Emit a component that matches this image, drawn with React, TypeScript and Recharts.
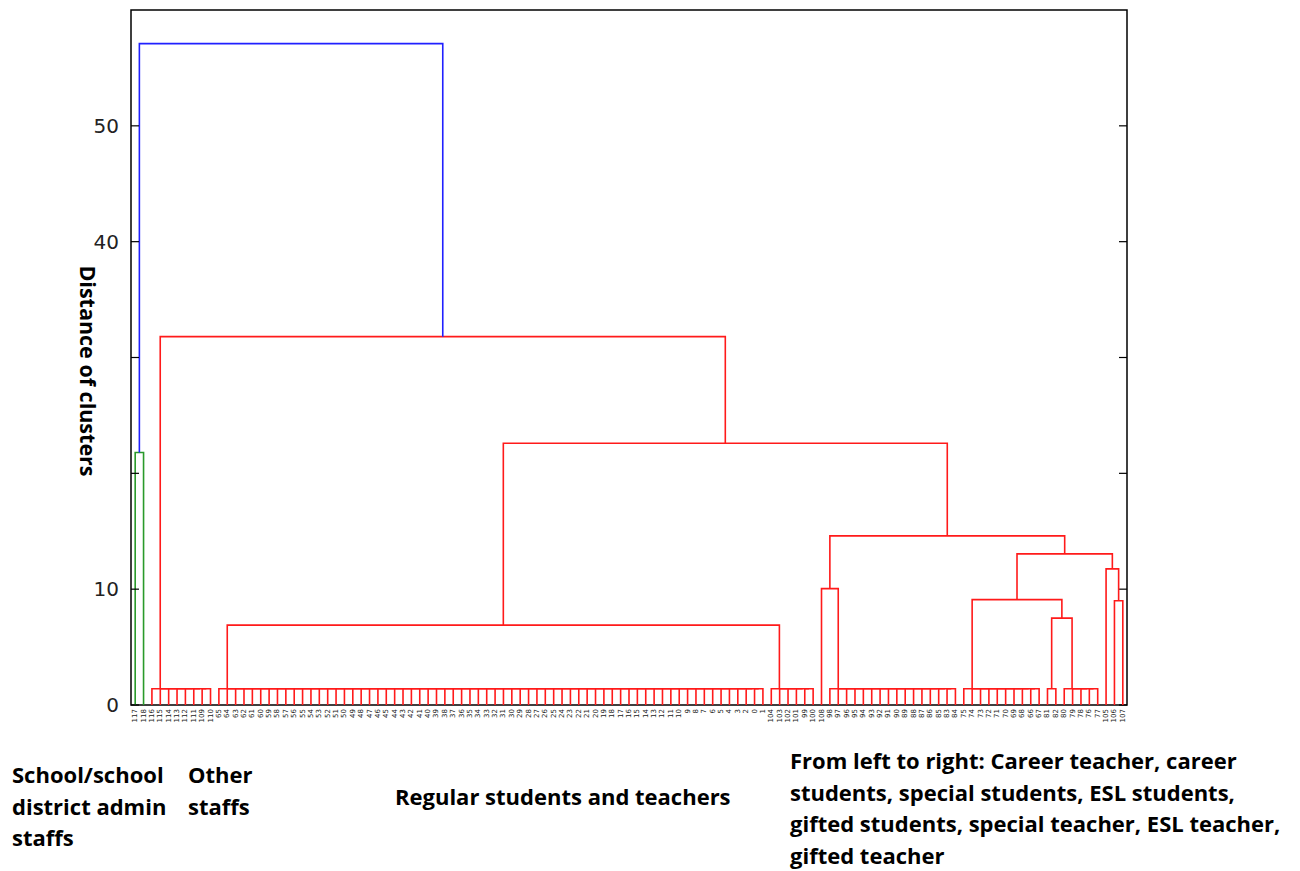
import React from "react";
import { ComposedChart, Line, XAxis, YAxis, ReferenceArea, ReferenceLine } from "recharts";

// leaf order along the x axis, left to right
const leafLabels = [
  "117", "118", "116", "115", "114", "113", "112", "111", "109", "110",
  "65", "64", "63", "62", "61", "60", "59", "58", "57", "56", "55", "54", "53", "52", "51", "50",
  "49", "48", "47", "46", "45", "44", "43", "42", "41", "40", "39", "38", "37", "36", "35", "34",
  "33", "32", "31", "30", "29", "28", "27", "26", "25", "24", "23", "22", "21", "20", "19", "18",
  "17", "16", "15", "14", "13", "12", "11", "10", "9", "8", "7", "6", "5", "4", "3", "2", "0", "1",
  "104", "103", "102", "101", "99", "100",
  "108",
  "98", "97", "96", "95", "94", "93", "92", "91", "90", "89", "88", "87", "86", "85", "83", "84",
  "75", "74", "73", "72", "71", "70", "69", "68", "66", "67",
  "81", "82",
  "80", "79", "78", "76", "77",
  "105", "106", "107",
];

// runs of leaves joined one after another at the same small distance (first/last = leaf index)
const combs = [
  { id: "other", first: 2, last: 9, height: 1.4 },
  { id: "regular", first: 10, last: 75, height: 1.4 },
  { id: "c104", first: 76, last: 81, height: 1.4 },
  { id: "c98", first: 83, last: 98, height: 1.4 },
  { id: "c75", first: 99, last: 108, height: 1.4 },
  { id: "c81", first: 109, last: 110, height: 1.4 },
  { id: "c80", first: 111, last: 115, height: 1.4 },
];

// upper merges: a / b are a leaf index or the id of an earlier cluster
const merges: { id: string; a: number | string; b: number | string; height: number; color?: string }[] = [
  { id: "admin", a: 0, b: 1, height: 21.8, color: "g" },
  { id: "m108", a: 82, b: "c98", height: 10.05 },
  { id: "mReg", a: "regular", b: "c104", height: 6.9 },
  { id: "m81", a: "c81", b: "c80", height: 7.5 },
  { id: "m75", a: "c75", b: "m81", height: 9.1 },
  { id: "m106", a: 117, b: 118, height: 9.0 },
  { id: "m105", a: 116, b: "m106", height: 11.75 },
  { id: "mA", a: "m75", b: "m105", height: 13.05 },
  { id: "mB", a: "m108", b: "mA", height: 14.6 },
  { id: "mC", a: "mReg", b: "mB", height: 22.6 },
  { id: "mD", a: "other", b: "mC", height: 31.8 },
  { id: "root", a: "admin", b: "mD", height: 57.1, color: "b" },
];

const yTicks = [0, 10, 20, 30, 40, 50];
const yTickLabels = ["0", "10", "", "", "40", "50"];

const annotations = [
  { left: 12, top: 759, lines: ["School/school", "district admin", "staffs"] },
  { left: 188, top: 759, lines: ["Other", "staffs"] },
  { left: 395, top: 781, lines: ["Regular students and teachers"] },
  {
    left: 790,
    top: 745,
    lines: [
      "From left to right: Career teacher, career",
      "students, special students, ESL students,",
      "gifted students, special teacher, ESL teacher,",
      "gifted teacher",
    ],
  },
];

const colors: Record<string, string> = { r: "#ff1a1a", g: "#2a9a2a", b: "#2020ff" };

const X_MAX = 10 * leafLabels.length;
const PLOT_W = 996;
const TICK_LEN = 8;
const leafX = (i: number) => 10 * i + 5;
const leafTicks = leafLabels.map((_, i) => leafX(i));

type Pt = { x: number; y: number };
type Link = { points: Pt[]; color: string };

function buildLinks() {
  const nodes: Record<string, Pt> = {};
  const links: Link[] = [];
  const pos = (k: number | string): Pt =>
    typeof k === "number" ? { x: leafX(k), y: 0 } : nodes[k];
  const join = (l: Pt, r: Pt, h: number, color: string) => {
    links.push({
      color,
      points: [
        { x: l.x, y: l.y },
        { x: l.x, y: h },
        { x: r.x, y: h },
        { x: r.x, y: r.y },
      ],
    });
    return { x: (l.x + r.x) / 2, y: h };
  };
  combs.forEach((c) => {
    let cur = pos(c.last);
    for (let i = c.last - 1; i >= c.first; i--) {
      cur = join(pos(i), cur, c.height, colors.r);
    }
    nodes[c.id] = cur;
  });
  merges.forEach((m) => {
    nodes[m.id] = join(pos(m.a), pos(m.b), m.height, colors[m.color || "r"]);
  });
  return links;
}

const LeafTick = (props: any) => {
  const { x, y, payload } = props;
  const label = leafLabels[Math.round((payload.value - 5) / 10)];
  return (
    <text
      x={x}
      y={y}
      transform={`rotate(-90, ${x}, ${y})`}
      textAnchor="end"
      dominantBaseline="central"
      fontSize={7}
      fontFamily="DejaVu Sans"
      fill="#222"
    >
      {label}
    </text>
  );
};

const LEFT_GAP = 12;

const LeftTick = (props: any) => {
  const { x, y, payload, index } = props;
  return (
    <g>
      <line x1={x + LEFT_GAP} x2={x + LEFT_GAP + TICK_LEN} y1={y} y2={y} stroke="#000" strokeWidth={1.2} />
      <text x={x} y={y} textAnchor="end" dominantBaseline="central" fontSize={20} fontFamily="DejaVu Sans" fill="#222">
        {yTickLabels[index] ?? payload.value}
      </text>
    </g>
  );
};

const textStyle: React.CSSProperties = {
  fontFamily: "'Open Sans'",
  fontWeight: 700,
  color: "#000",
  whiteSpace: "nowrap",
};

export default function App() {
  const links = buildLinks();
  const tickUnits = (TICK_LEN * X_MAX) / PLOT_W;
  return (
    <div style={{ position: "absolute", left: 0, top: 0, width: 1300, height: 871, background: "#fff" }}>
      <ComposedChart width={1300} height={871} margin={{ top: 10, right: 173, bottom: 136, left: 91 }}>
        <XAxis
          type="number"
          dataKey="x"
          domain={[0, X_MAX]}
          ticks={leafTicks}
          interval={0}
          tickSize={0}
          tickMargin={4}
          axisLine={false}
          tickLine={false}
          tick={(p: any) => <LeafTick {...p} />}
          height={30}
        />
        <YAxis
          type="number"
          domain={[0, 60]}
          ticks={yTicks}
          width={40}
          tickSize={0}
          tickMargin={LEFT_GAP}
          axisLine={false}
          tickLine={false}
          tick={(p: any) => <LeftTick {...p} />}
        />
        <ReferenceArea x1={0} x2={X_MAX} y1={0} y2={60} fill="none" stroke="#000" strokeWidth={1.5} />
        {yTicks.map((t) => (
          <ReferenceLine
            key={t}
            segment={[
              { x: X_MAX - tickUnits, y: t },
              { x: X_MAX, y: t },
            ]}
            stroke="#000"
            strokeWidth={1.2}
          />
        ))}
        {links.map((l, i) => (
          <Line
            key={i}
            data={l.points}
            dataKey="y"
            type="linear"
            stroke={l.color}
            strokeWidth={1.6}
            dot={false}
            activeDot={false}
            isAnimationActive={false}
          />
        ))}
      </ComposedChart>
      <div
        style={{
          ...textStyle,
          position: "absolute",
          left: 88,
          top: 371,
          transform: "translate(-50%, -50%) rotate(90deg)",
          fontSize: 21.5,
        }}
      >
        Distance of clusters
      </div>
      {annotations.map((a, i) => (
        <div
          key={i}
          style={{
            ...textStyle,
            position: "absolute",
            left: a.left,
            top: a.top,
            fontSize: 22,
            lineHeight: "31.5px",
          }}
        >
          {a.lines.map((t, j) => (
            <div key={j}>{t}</div>
          ))}
        </div>
      ))}
    </div>
  );
}
